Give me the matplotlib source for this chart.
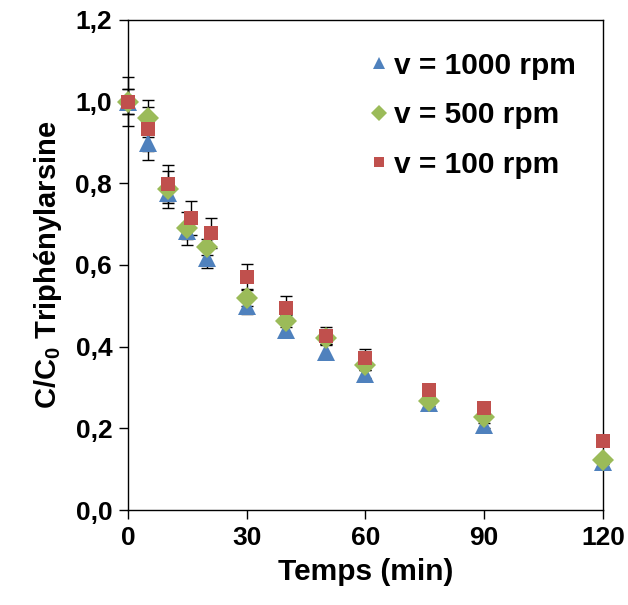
import numpy as np
import matplotlib
matplotlib.use("Agg")
import matplotlib.pyplot as plt
from matplotlib.ticker import FuncFormatter

plt.rcParams["font.family"] = ["Liberation Sans", "DejaVu Sans"]
plt.rcParams["mathtext.default"] = "regular"

# sampling times (min)
temps = [0, 5, 10, 15, 20, 30, 40, 50, 60, 76, 90, 120]
temps_100 = [0, 5, 10, 16, 21, 30, 40, 50, 60, 76, 90, 120]

# C/C0 for each stirring speed
c_1000 = [1.00, 0.898, 0.776, 0.683, 0.617, 0.500, 0.441, 0.388, 0.334, 0.263, 0.207, 0.117]
c_500 = [1.00, 0.959, 0.785, 0.690, 0.644, 0.520, 0.463, 0.422, 0.354, 0.268, 0.227, 0.122]
c_100 = [1.00, 0.932, 0.798, 0.715, 0.678, 0.571, 0.495, 0.427, 0.373, 0.293, 0.249, 0.168]

# error bars
err_1000 = [0.06, 0.042, 0.02, 0.02, 0.025, 0.02, 0.017, 0.015, 0.01, 0.008, 0.005, 0.005]
err_500 = [0.03, 0.046, 0.046, 0.04, 0.02, 0.02, 0.015, 0.015, 0.01, 0.008, 0.005, 0.005]
err_100 = [0.03, 0.054, 0.046, 0.042, 0.037, 0.032, 0.03, 0.02, 0.022, 0.008, 0.005, 0.005]

series = [
    ("v = 1000 rpm", temps, c_1000, err_1000, "^", "#4F81BD", 13),
    ("v = 500 rpm", temps, c_500, err_500, "D", "#9BBB59", 11),
    ("v = 100 rpm", temps_100, c_100, err_100, "s", "#C0504D", 10.5),
]

fig = plt.figure(figsize=(6.28, 6.05), dpi=100)
ax = fig.add_axes([0.204, 0.157, 0.756, 0.810])

# error bars below the markers
for label, t, vals, err, mk, col, ms in series:
    ax.errorbar(t, vals, yerr=err, fmt="none", ecolor="black",
                elinewidth=1.0, capsize=4.5, capthick=1.0, zorder=2, clip_on=False)

for label, t, vals, err, mk, col, ms in series:
    ax.plot(t, vals, linestyle="none", marker=mk, color=col, markersize=ms,
            markeredgewidth=0, label=label, zorder=3, clip_on=False)

ax.set_xlim(0, 120)
ax.set_ylim(0, 1.2)
ax.set_xticks([0, 30, 60, 90, 120])
ax.set_yticks(np.arange(0, 1.21, 0.2))
ax.yaxis.set_major_formatter(FuncFormatter(lambda v, p: f"{v:.1f}".replace(".", ",")))

for s in ax.spines.values():
    s.set_linewidth(1.0)
ax.tick_params(direction="out", length=6.5, width=1.0, labelsize=19, pad=5)
for lab in ax.get_xticklabels() + ax.get_yticklabels():
    lab.set_fontweight("bold")

ax.set_xlabel("Temps (min)", fontsize=21.5, fontweight="bold", labelpad=6)
ax.set_ylabel(r"C/C$_{0}$ Triphénylarsine", fontsize=21, fontweight="bold", labelpad=8)

leg = ax.legend(loc="upper right", bbox_to_anchor=(1.0, 0.99), frameon=False,
                prop={"weight": "bold", "size": 21.5}, handlelength=0.5,
                handletextpad=0.25, labelspacing=0.72, markerscale=0.7)

fig.savefig("out.png", dpi=100)
